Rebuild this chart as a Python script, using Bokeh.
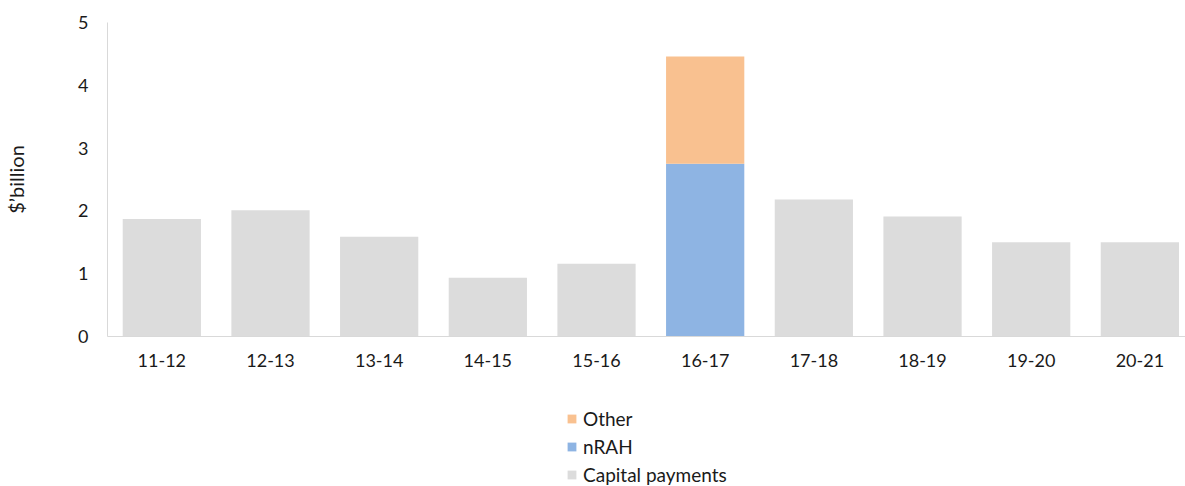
from bokeh.plotting import figure
from bokeh.models import Range1d, FixedTicker, Legend, LegendItem, ColumnDataSource
from bokeh.layouts import column
from bokeh.embed import file_html
from bokeh.resources import INLINE

# Financial years and amounts ($ billion)
years = ["11-12", "12-13", "13-14", "14-15", "15-16",
         "16-17", "17-18", "18-19", "19-20", "20-21"]
capital_payments = [1.87, 2.01, 1.59, 0.935, 1.16, 0.0, 2.18, 1.91, 1.50, 1.50]
nrah = [0, 0, 0, 0, 0, 2.75, 0, 0, 0, 0]
other = [0, 0, 0, 0, 0, 1.71, 0, 0, 0, 0]
y_ticks = [0, 1, 2, 3, 4, 5]

series_names = ["Capital payments", "nRAH", "Other"]
COLORS = ["#DCDCDC", "#8EB4E3", "#F9C190"]

FONT = "Lato"
TEXT = "#1a1a1a"
AXIS = "#D9D9D9"

W = 1185
CHART_H, LEGEND_H = 390, 96

xs = list(range(len(years)))
source = ColumnDataSource(dict(x=xs, capital=capital_payments, nrah=nrah, other=other))

# ---- bar chart ----
p = figure(width=W, height=CHART_H, output_backend="svg", toolbar_location=None,
           x_range=Range1d(-0.5, 9.42), y_range=Range1d(y_ticks[0], y_ticks[-1]),
           min_border_left=107, min_border_right=0, min_border_top=22,
           min_border_bottom=CHART_H - 336)

p.vbar_stack(["capital", "nrah", "other"], x="x", width=0.72,
             color=COLORS, line_color=None, source=source)

p.grid.visible = False
p.outline_line_color = None
p.background_fill_color = "white"
p.border_fill_color = "white"

p.xaxis.ticker = FixedTicker(ticks=xs)
p.xaxis.major_label_overrides = {i: y for i, y in enumerate(years)}
p.yaxis.ticker = FixedTicker(ticks=y_ticks)

for ax in (p.xaxis, p.yaxis):
    ax.axis_line_color = AXIS
    ax.axis_line_width = 1
    ax.major_tick_line_color = None
    ax.minor_tick_line_color = None
    ax.major_tick_out = 0
    ax.major_tick_in = 0
    ax.minor_tick_out = 0
    ax.minor_tick_in = 0
    ax.major_label_text_font = FONT
    ax.major_label_text_font_size = "18px"
    ax.major_label_text_color = TEXT

p.xaxis.major_label_standoff = 17
p.yaxis.major_label_standoff = 19

p.yaxis.axis_label = "$\u2019billion"
p.yaxis.axis_label_text_font = FONT
p.yaxis.axis_label_text_font_size = "20px"
p.yaxis.axis_label_text_font_style = "normal"
p.yaxis.axis_label_text_color = TEXT
p.yaxis.axis_label_standoff = 47

# ---- legend strip under the chart ----
lg = figure(width=W, height=LEGEND_H, output_backend="svg", toolbar_location=None,
            x_range=Range1d(0, 1), y_range=Range1d(0, 1),
            x_axis_location=None, y_axis_location=None,
            min_border=0)
lg.grid.visible = False
lg.outline_line_color = None
lg.background_fill_color = "white"
lg.border_fill_color = "white"

# swatch renderers: one undefined point each, so only the legend key shows
swatches = {}
for name, color in zip(series_names, COLORS):
    swatches[name] = lg.vbar(x=[float("nan")], top=[float("nan")], width=0.1,
                             color=color, line_color=None)

legend = Legend(
    items=[LegendItem(label=name, renderers=[swatches[name]])
           for name in reversed(series_names)],
    location=(459, 0), orientation="vertical",
    glyph_width=11, glyph_height=11, label_height=20, spacing=5,
    label_standoff=6, padding=0, margin=0,
    border_line_color=None, background_fill_alpha=0,
    label_text_font=FONT, label_text_font_size="19px", label_text_color=TEXT,
)
lg.add_layout(legend, "center")

open("out.html", "w").write(file_html(column(p, lg, spacing=0), INLINE))
